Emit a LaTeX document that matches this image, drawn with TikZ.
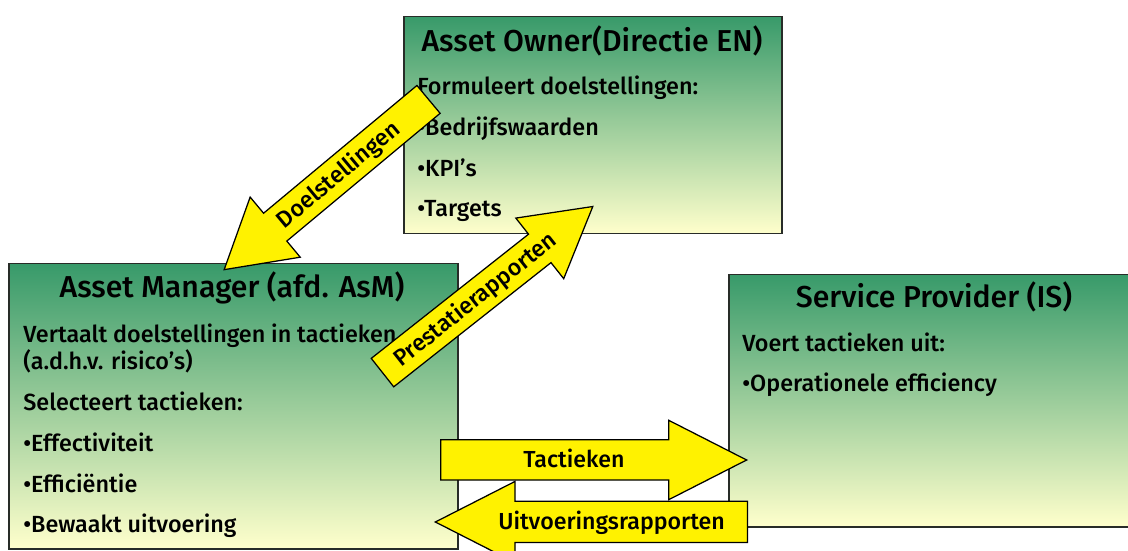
\documentclass[tikz,border=0pt]{standalone}
\usepackage{fontspec}
\setmainfont{Fira Sans}[UprightFont=* Medium]
\usepackage{tikz}
\usetikzlibrary{shapes,arrows,arrows.meta}
\usetikzlibrary{positioning}

\definecolor{boxtop}{RGB}{56,154,106}
\definecolor{boxbottom}{RGB}{255,255,204}
\definecolor{boxline}{RGB}{40,44,40}

\tikzstyle{box} = [rectangle, draw=boxline, line width=0.3mm, top color=boxtop,
    bottom color=boxbottom, anchor=north west, inner sep=0pt]
\tikzstyle{boxtitle} = [font=\fontsize{17.2}{20}\selectfont, anchor=base, inner sep=0pt]
% multi-line text: the base anchor sits on the last line
\tikzstyle{boxtext} = [font=\fontsize{13.3}{15.4}\selectfont, anchor=base west,
    inner sep=0pt, align=left]
\tikzstyle{flow} = [single arrow, draw=black, fill=yellow, line width=0.25mm,
    single arrow head indent=0pt, inner xsep=2pt, inner ysep=0pt,
    font=\fontsize{13.2}{15}\selectfont, anchor=tail]

\begin{document}
\begin{tikzpicture}[x=0.2mm,y=-0.2mm]
\useasboundingbox (0,0) rectangle (1128,551);

% the three parties
\node [box, minimum width=75.6mm, minimum height=43.4mm] (owner) at (403,16) {};
\node [box, minimum width=89.8mm, minimum height=57mm] (manager) at (8,263) {};
\node [box, minimum width=82.4mm, minimum height=50.4mm] (provider) at (728,274) {};

\node [boxtitle] (ownertitle) at (592,52) {Asset Owner(Directie EN)};
\node [boxtext] (ownertext) at (417,217) {Formuleert doelstellingen:\\[7.8pt]
    •Bedrijfswaarden\\[7.8pt] •KPI’s\\[7.8pt] •Targets};

\node [boxtitle] (managertitle) at (232,298) {Asset Manager (afd. AsM)};
\node [boxtext] (managertext) at (23,533) {Vertaalt doelstellingen in tactieken\\
    (a.d.h.v. risico’s)\\[7.8pt] Selecteert tactieken:\\[7.8pt]
    •Effectiviteit\\[7.8pt] •Efficiëntie\\[7.8pt] •Bewaakt uitvoering};

\node [boxtitle] (providertitle) at (934,308) {Service Provider (IS)};
\node [boxtext] (providertext) at (742,392) {Voert tactieken uit:\\[7.8pt]
    •Operationele efficiency};

% flows between the parties
\node [flow, rotate=39.8, shape border rotate=180, minimum height=53.2mm,
    single arrow head extend=4.2mm, single arrow tip angle=61,
    text height=5mm, text depth=2mm] (goals) at (429,99) {Doelstellingen};
\node [flow, rotate=38.3, minimum height=53.6mm,
    single arrow head extend=4.1mm, single arrow tip angle=59.5,
    text height=5mm, text depth=2mm] (reports) at (382,373) {Prestatierapporten};
\node [flow, minimum height=61.2mm,
    single arrow head extend=3.9mm, single arrow tip angle=54,
    text height=5.5mm, text depth=2.3mm] (tactics) at (440,460) {Tactieken};
\node [flow, shape border rotate=180, minimum height=62.4mm,
    single arrow head extend=4mm, single arrow tip angle=54,
    text height=5.5mm, text depth=2.5mm] (execution) at (748,522) {Uitvoeringsrapporten};

\end{tikzpicture}
\end{document}
